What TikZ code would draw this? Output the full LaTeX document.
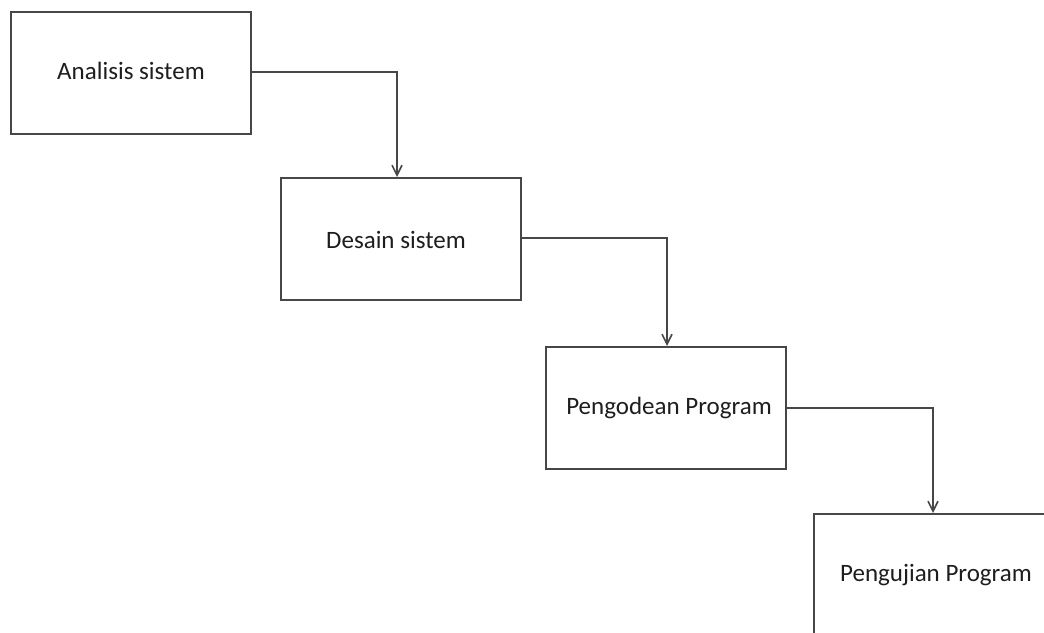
\documentclass[tikz,border=0pt]{standalone}
\usepackage{fontspec}
\setmainfont{Carlito}
\usetikzlibrary{arrows.meta}
\definecolor{linec}{HTML}{474747}
\definecolor{textc}{HTML}{1E1E1E}
\begin{document}
\begin{tikzpicture}[x=1pt,y=-1pt,
  stage/.style={draw=linec, line width=1.7pt, minimum width=240pt, minimum height=122pt, inner sep=0pt, anchor=north west},
  label/.style={text=textc, font=\fontsize{25}{27}\selectfont, inner sep=0pt},
  flow/.style={draw=linec, line width=1.7pt, -{Straight Barb[length=10pt,width=10pt,line width=1.6pt]}}]
\useasboundingbox (0,0) rectangle (1044,632);
\clip (0,0) rectangle (1044,632);
\fill[white] (0,0) rectangle (1044,632);
\node[stage] (a) at (10,11) {};
\node[label] (ta) at (131,71) {Analisis sistem};
\node[stage] (b) at (280,177) {};
\node[label] (tb) at (396,240) {Desain sistem};
\node[stage] (c) at (545,346) {};
\node[label] (tc) at (669,408) {Pengodean Program};
\node[stage] (d) at (813,513) {};
\node[label] (td) at (936,575) {Pengujian Program};
\draw[flow] (a.east |- 0,72) -| (b.north -| 397,0);
\draw[flow] (b.east |- 0,238) -| (c.north -| 667,0);
\draw[flow] (c.east |- 0,408) -| (d.north -| 933,0);
\end{tikzpicture}
\end{document}
